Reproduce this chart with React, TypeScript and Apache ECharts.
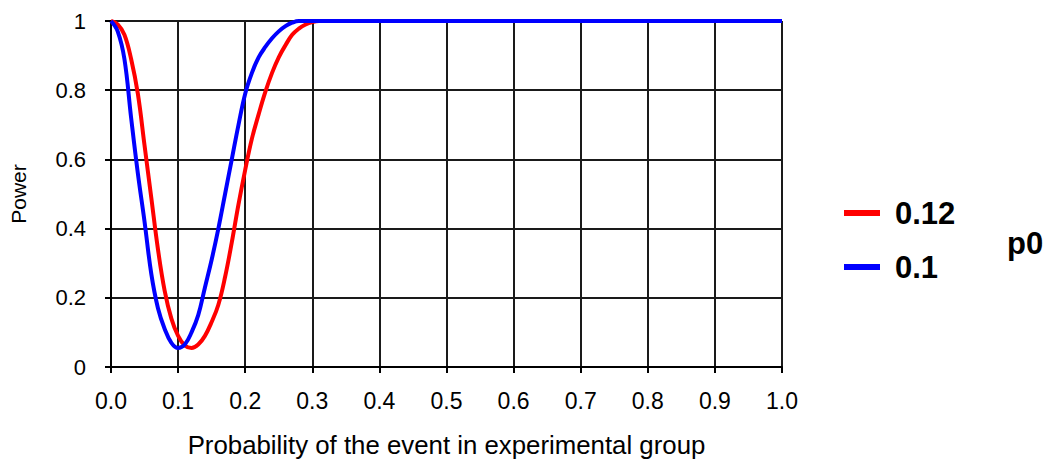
import React, { useEffect, useRef } from "react";
import * as echarts from "echarts";

const xValues = [
  0, 0.01, 0.02, 0.03, 0.04, 0.05, 0.06, 0.07, 0.08, 0.09, 0.1, 0.11, 0.12, 0.13, 0.14, 0.15,
  0.16, 0.17, 0.18, 0.19, 0.2, 0.21, 0.22, 0.23, 0.24, 0.25, 0.26, 0.27, 0.28, 0.29, 0.3, 0.31,
  0.4, 0.5, 0.6, 0.7, 0.8, 0.9, 1.0,
];

// p0 = 0.12 (red)
const powerP012 = [
  1, 0.99, 0.96, 0.89, 0.79, 0.64, 0.49, 0.34, 0.22, 0.14, 0.09, 0.062, 0.055, 0.065, 0.09, 0.13,
  0.18, 0.26, 0.36, 0.47, 0.57, 0.66, 0.73, 0.795, 0.85, 0.895, 0.93, 0.96, 0.978, 0.99, 0.997, 1,
  1, 1, 1, 1, 1, 1, 1,
];

// p0 = 0.1 (blue)
const powerP010 = [
  1, 0.97, 0.89, 0.72, 0.56, 0.42, 0.27, 0.17, 0.11, 0.07, 0.055, 0.065, 0.1, 0.15, 0.23, 0.31,
  0.4, 0.5, 0.6, 0.7, 0.79, 0.85, 0.895, 0.925, 0.95, 0.97, 0.985, 0.995, 1, 1, 1, 1,
  1, 1, 1, 1, 1, 1, 1,
];

const seriesNames = ["0.12", "0.1"];
const seriesColors = ["#ff0000", "#0000ff"];
const xTitle = "Probability of the event in experimental group";
const yTitle = "Power";
const legendTitle = "p0";

const FONT = "'Liberation Sans', Arial, sans-serif";

export default function App() {
  const ref = useRef<HTMLDivElement>(null);
  useEffect(() => {
    if (!ref.current) return;
    const chart = echarts.init(ref.current, undefined, { renderer: "svg" });
    const seriesData = [powerP012, powerP010];
    chart.setOption({
      animation: false,
      backgroundColor: "#ffffff",
      textStyle: { fontFamily: FONT },
      grid: { left: 109, right: 270, top: 21, bottom: 97, containLabel: false },
      legend: {
        data: seriesNames,
        orient: "vertical",
        left: 839,
        top: 191,
        icon: "rect",
        itemWidth: 36,
        itemHeight: 6,
        itemGap: 20,
        textStyle: {
          fontFamily: FONT,
          fontSize: 31,
          fontWeight: "bold",
          color: "#000",
          lineHeight: 34,
          padding: [0, 0, 0, 10],
        },
      },
      graphic: [
        {
          type: "text",
          x: 1007,
          y: 243,
          style: {
            text: legendTitle,
            fontFamily: FONT,
            fontSize: 31,
            fontWeight: "bold",
            fill: "#000",
            verticalAlign: "middle",
          },
        },
      ],
      xAxis: {
        type: "value",
        min: 0,
        max: 1,
        interval: 0.1,
        name: xTitle,
        nameLocation: "middle",
        nameGap: 65,
        nameTextStyle: { fontFamily: FONT, fontSize: 25.8, color: "#000" },
        axisLine: { onZero: false, lineStyle: { color: "#000", width: 2 } },
        axisTick: { show: true, length: 6, inside: false, lineStyle: { color: "#000", width: 2 } },
        axisLabel: {
          margin: 22,
          fontFamily: FONT,
          fontSize: 23,
          color: "#000",
          formatter: (v: number) => v.toFixed(1),
        },
        splitLine: { show: true, lineStyle: { color: "#1a1a1a", width: 2 } },
      },
      yAxis: {
        type: "value",
        min: 0,
        max: 1,
        interval: 0.2,
        name: yTitle,
        nameLocation: "middle",
        nameGap: 82,
        nameRotate: 90,
        nameTextStyle: { fontFamily: FONT, fontSize: 21, color: "#000" },
        axisLine: { show: true, onZero: false, lineStyle: { color: "#000", width: 2 } },
        axisTick: { show: true, length: 6, inside: false, lineStyle: { color: "#000", width: 2 } },
        axisLabel: {
          margin: 25,
          fontFamily: FONT,
          fontSize: 22,
          color: "#000",
          formatter: (v: number) => String(Math.round(v * 10) / 10),
        },
        splitLine: { show: true, lineStyle: { color: "#1a1a1a", width: 2 } },
      },
      series: seriesNames.map((name, i) => ({
        name,
        type: "line",
        data: xValues.map((x, j) => [x, seriesData[i][j]]),
        showSymbol: false,
        smooth: 0.4,
        clip: true,
        color: seriesColors[i],
        lineStyle: { color: seriesColors[i], width: 4 },
        z: 3 + i,
      })),
    });
    return () => chart.dispose();
  }, []);
  return (
    <div
      ref={ref}
      style={{ position: "fixed", left: 0, top: 0, width: 1052, height: 464, background: "#fff" }}
    />
  );
}
